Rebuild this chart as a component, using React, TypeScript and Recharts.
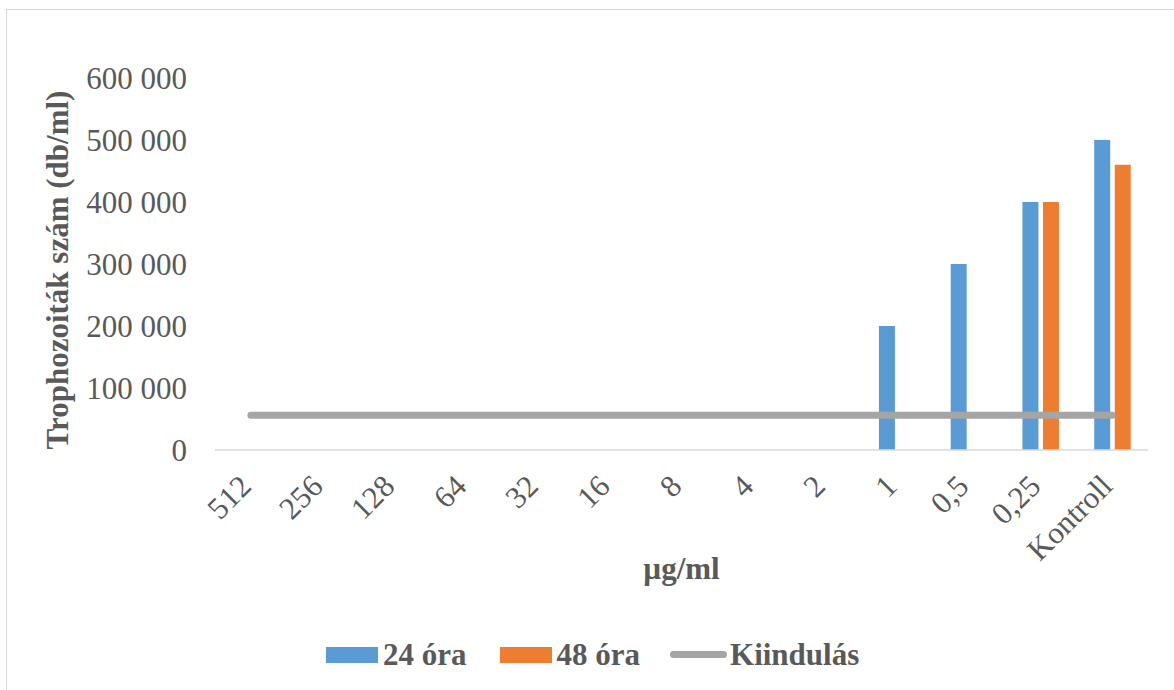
import React from 'react';
import { ComposedChart, Bar, Line, XAxis, YAxis, Legend } from 'recharts';

const categories = ['512', '256', '128', '64', '32', '16', '8', '4', '2', '1', '0,5', '0,25', 'Kontroll'];
const hours24 = [0, 0, 0, 0, 0, 0, 0, 0, 0, 200000, 300000, 400000, 500000];
const hours48 = [0, 0, 0, 0, 0, 0, 0, 0, 0, 0, 0, 400000, 460000];
const startLevel = [56000, 56000, 56000, 56000, 56000, 56000, 56000, 56000, 56000, 56000, 56000, 56000, 56000];
const yTicks = [0, 100000, 200000, 300000, 400000, 500000, 600000];

const seriesNames = { h24: '24 óra', h48: '48 óra', start: 'Kiindulás' };
const BLUE = '#5B9BD5';
const ORANGE = '#ED7D31';
const GRAY = '#A5A5A5';
const TEXT = '#595959';
const FONT = '"Liberation Serif", "Times New Roman", serif';

const data = categories.map((name, i) => ({
  name,
  h24: hours24[i],
  h48: hours48[i],
  start: startLevel[i],
}));

const fmt = (v: number) => String(v).replace(/\B(?=(\d{3})+(?!\d))/g, ' ');

function XTick({ x, y, payload }: any) {
  const tx = x + 2;
  const ty = y + 38;
  return (
    <text
      x={tx}
      y={ty}
      transform={`rotate(-45, ${tx}, ${ty})`}
      textAnchor="end"
      fill={TEXT}
      fontSize={31}
      fontFamily={FONT}
    >
      {payload.value}
    </text>
  );
}

function LegendBox() {
  const item = { display: 'flex', alignItems: 'center' } as const;
  return (
    <div style={{ display: 'flex', alignItems: 'center', fontFamily: FONT, fontWeight: 'bold', fontSize: 31, lineHeight: '31px', color: TEXT, whiteSpace: 'nowrap' }}>
      <div style={{ ...item, marginRight: 33 }}>
        <span style={{ display: 'inline-block', width: 52, height: 16, background: BLUE }} />
        <span style={{ marginLeft: 5 }}>{seriesNames.h24}</span>
      </div>
      <div style={{ ...item, marginRight: 30 }}>
        <span style={{ display: 'inline-block', width: 52, height: 16, background: ORANGE }} />
        <span style={{ marginLeft: 5 }}>{seriesNames.h48}</span>
      </div>
      <div style={item}>
        <span style={{ display: 'inline-block', width: 57, height: 7, borderRadius: 4, background: GRAY }} />
        <span style={{ marginLeft: 3 }}>{seriesNames.start}</span>
      </div>
    </div>
  );
}

export default function App() {
  return (
    <div style={{ position: 'absolute', left: 0, top: 0, width: 1174, height: 690, overflow: 'hidden', background: '#fff' }}>
      <div style={{ position: 'absolute', left: 6, top: 9, width: 1200, height: 700, border: '1px solid #D9D9D9' }} />
      <ComposedChart
        width={1174}
        height={690}
        data={data}
        margin={{ top: 78, right: 26, bottom: 0, left: 0 }}
        barSize={16}
        barGap={4.5}
        style={{ position: 'absolute', left: 0, top: 0 }}
      >
        <XAxis
          dataKey="name"
          height={240}
          axisLine={{ stroke: '#D9D9D9', strokeWidth: 1.5 }}
          tickLine={false}
          tickSize={0}
          tickMargin={0}
          interval={0}
          tick={<XTick />}
          label={{ value: 'µg/ml', position: 'center', dy: -2, fill: TEXT, fontSize: 31, fontWeight: 'bold', fontFamily: FONT }}
        />
        <YAxis
          width={215}
          domain={[0, 600000]}
          ticks={yTicks}
          tickFormatter={fmt}
          axisLine={false}
          tickLine={false}
          tickSize={0}
          tickMargin={28}
          tick={{ fill: TEXT, fontSize: 31, fontFamily: FONT }}
          label={{ value: 'Trophozoiták szám (db/ml)', angle: -90, position: 'center', dx: -51, dy: 6, fill: TEXT, fontSize: 31, fontWeight: 'bold', fontFamily: FONT }}
        />
        <Legend
          verticalAlign="middle"
          align="center"
          layout="horizontal"
          content={<LegendBox />}
          wrapperStyle={{ left: 326, top: 639, width: 600, height: 34 }}
        />
        <Bar dataKey="h24" name={seriesNames.h24} fill={BLUE} isAnimationActive={false} />
        <Bar dataKey="h48" name={seriesNames.h48} fill={ORANGE} isAnimationActive={false} />
        <Line
          dataKey="start"
          name={seriesNames.start}
          stroke={GRAY}
          strokeWidth={7}
          strokeLinecap="round"
          dot={false}
          activeDot={false}
          isAnimationActive={false}
        />
      </ComposedChart>
    </div>
  );
}
